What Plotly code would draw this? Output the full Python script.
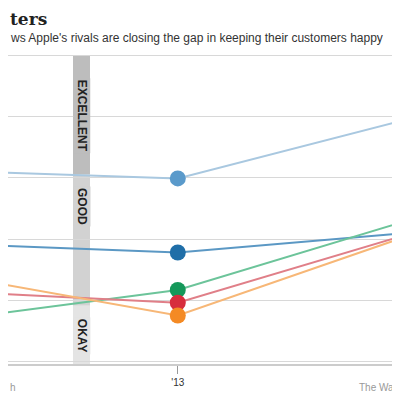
import plotly.graph_objects as go

years = [0, 1, 2]
series_names = ["Apple", "Samsung", "Motorola", "LG", "Nokia"]
light_blue = [79.33, 78.97, 81.77]
dark_blue = [75.77, 75.35, 76.27]
green = [72.09, 73.52, 76.8]
red = [73.43, 72.9, 76.13]
orange = [74.2, 72.27, 76.03]
grid_vals = [70, 73, 76, 79, 82, 85]
tick_labels = ["'13"]

series = [light_blue, dark_blue, green, red, orange]
line_colors = ["#a9c8e0", "#5b98c4", "#6cc49a", "#e07f88", "#f7b777"]
dot_colors = ["#5a9acb", "#1f6ea8", "#15985a", "#d72d3d", "#f48a24"]

fig = go.Figure()
for name, vals, lc, dc in zip(series_names, series, line_colors, dot_colors):
    fig.add_trace(go.Scatter(x=years, y=vals, mode="lines", line=dict(color=lc, width=2),
                             name=name, showlegend=False, hoverinfo="skip"))
for name, vals, lc, dc in zip(series_names, series, line_colors, dot_colors):
    fig.add_trace(go.Scatter(x=[years[1]], y=[vals[1]], mode="markers",
                             marker=dict(color=dc, size=16), name=name, showlegend=False))

bx0, bx1 = 0.5285, 0.605
bands = [("EXCELLENT", 85, 79.16, "#bdbdbd", 82.06),
         ("GOOD", 79.16, 72.75, "#d2d2d2", 77.6),
         ("OKAY", 72.75, 69.9, "#e4e4e4", 71.3)]
for label, y0, y1, col, yc in bands:
    fig.add_shape(type="rect", x0=bx0, x1=bx1, y0=y1, y1=y0, xref="x", yref="y",
                  fillcolor=col, line_width=0, layer="below")
    fig.add_annotation(x=(bx0 + bx1) / 2, y=yc, text="<b>" + label + "</b>", textangle=90,
                       showarrow=False, font=dict(family="Liberation Sans", size=12, color="#222"),
                       bgcolor=col)

fig.add_annotation(xref="paper", yref="paper", x=0, y=1, xanchor="left", yanchor="top",
                   yshift=44, text="<b>ters</b>", showarrow=False,
                   font=dict(family="DejaVu Serif", size=17, color="#222"))
fig.add_annotation(xref="paper", yref="paper", x=0, y=1, xanchor="left", yanchor="top",
                   yshift=22, text="ws Apple's rivals are closing the gap in keeping their customers happy",
                   showarrow=False, font=dict(family="Liberation Sans", size=12, color="#333"))
fig.add_annotation(xref="paper", yref="paper", x=0, y=0, xanchor="left", yanchor="top",
                   yshift=-16, text="h", showarrow=False,
                   font=dict(family="Liberation Sans", size=10, color="#999"))
fig.add_annotation(xref="paper", yref="paper", x=1, y=0, xanchor="right", yanchor="top",
                   yshift=-16, text="The Wall", showarrow=False,
                   font=dict(family="Liberation Sans", size=10, color="#999"))

fig.update_xaxes(range=[0.236, 2.0], tickvals=[1], ticktext=tick_labels, ticks="outside",
                 ticklen=8, tickcolor="#999", showgrid=False, zeroline=False,
                 showline=True, linecolor="#ccc", linewidth=2,
                 tickfont=dict(family="Liberation Sans", size=10, color="#333"))
fig.update_yaxes(range=[69.9, 85.2], tickvals=grid_vals, showticklabels=False,
                 showgrid=True, gridcolor="#d8d8d8", gridwidth=1, zeroline=False)
fig.update_layout(width=392, height=392, margin=dict(l=0, r=0, t=43, b=36),
                  plot_bgcolor="white", paper_bgcolor="white")
fig.write_html("out.html")
